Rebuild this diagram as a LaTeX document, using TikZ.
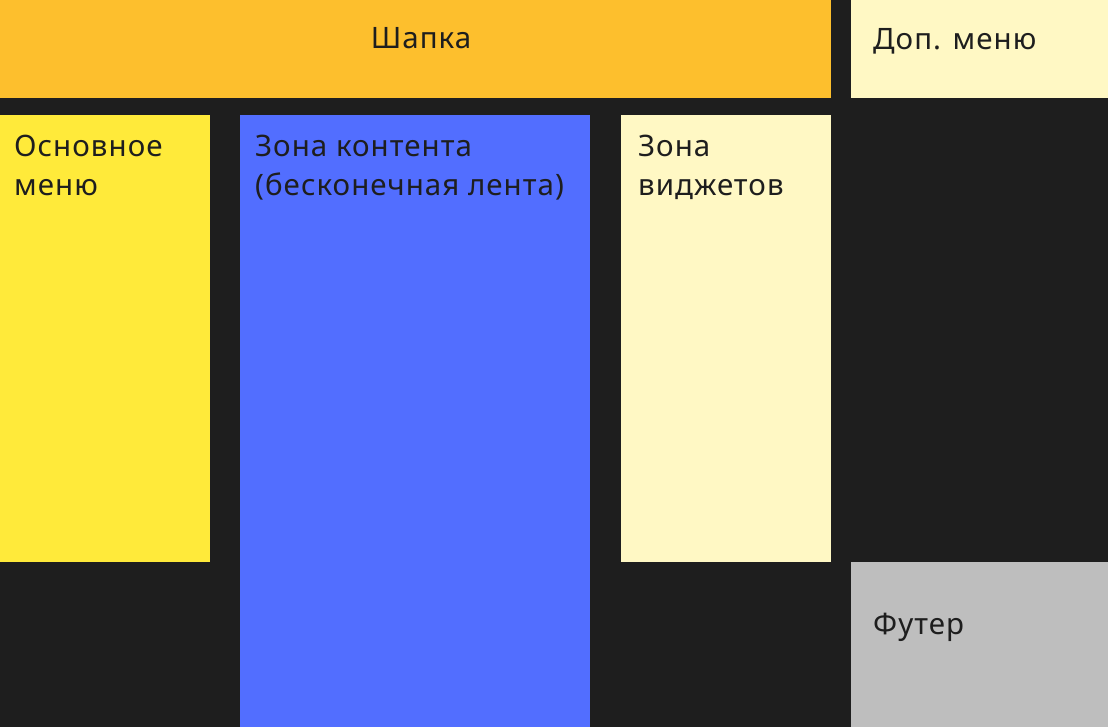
\documentclass[tikz,border=0pt]{standalone}
\usepackage{fontspec}
\setmainfont{Noto Sans}[LetterSpace=3.5]
\definecolor{bg}{HTML}{1E1E1E}
\definecolor{hdr}{HTML}{FDBF2D}
\definecolor{ylw}{HTML}{FFEA3A}
\definecolor{blu}{HTML}{526EFF}
\definecolor{crm}{HTML}{FFF8C4}
\definecolor{gry}{HTML}{BEBEBE}
\begin{document}
\begin{tikzpicture}[x=1pt,y=-1pt,
  lbl/.style={anchor=base west, inner sep=0pt, text=bg, font=\fontsize{29.5}{38.5}\selectfont, align=left}]
\useasboundingbox (0,0) rectangle (1108,727);
\fill[bg] (0,0) rectangle (1108,727);
\fill[hdr] (0,0) rectangle (831,98);
\fill[crm] (851,0) rectangle (1108,98);
\fill[ylw] (0,115) rectangle (210,562);
\fill[blu] (240,115) rectangle (590,727);
\fill[crm] (621,115) rectangle (831,562);
\fill[gry] (851,562) rectangle (1108,727);
\node[lbl, anchor=base] (shapka) at (421,48.5) {Шапка};
\node[lbl] (dop) at (873,49.5) {Доп. меню};
\node[lbl] (osn) at (14,195.5) {Основное\\меню};
\node[lbl] (kont) at (255,195.5) {Зона контента\\(бесконечная лента)};
\node[lbl] (vidz) at (638,195.5) {Зона\\виджетов};
\node[lbl] (futer) at (873,634) {Футер};
\end{tikzpicture}
\end{document}
